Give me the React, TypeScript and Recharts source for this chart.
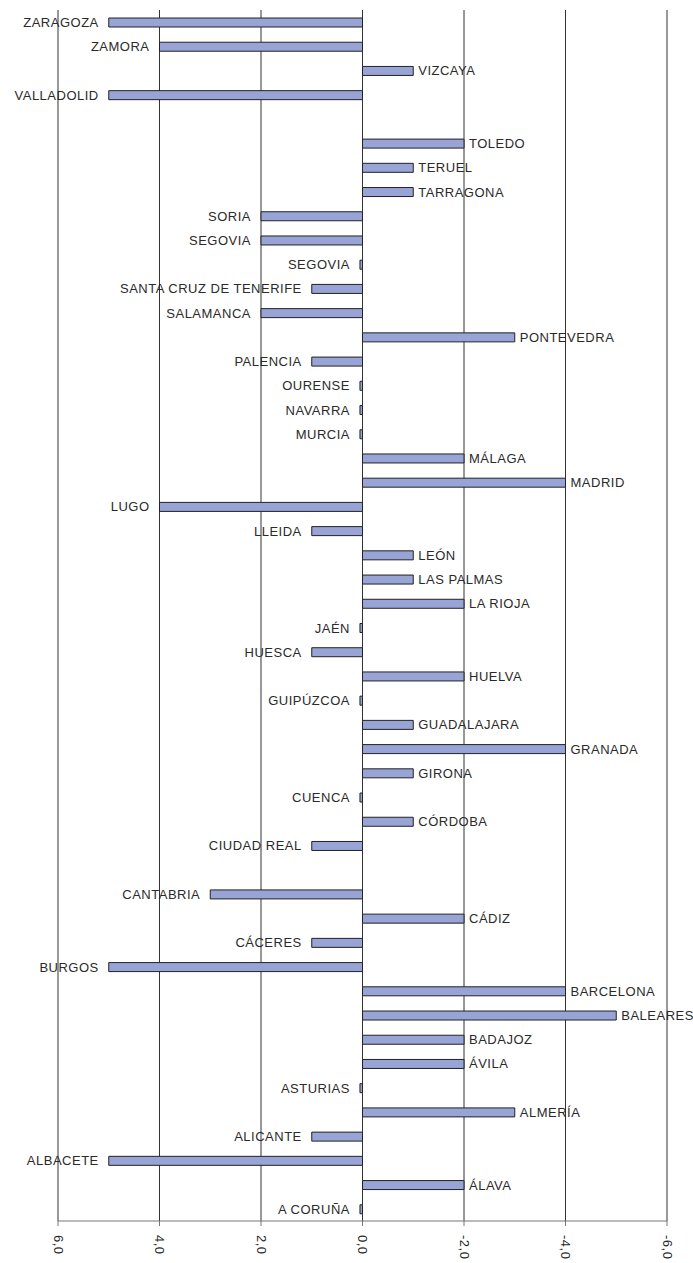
import { BarChart, Bar, XAxis, YAxis, CartesianGrid, LabelList } from "recharts"

// provinces, top to bottom ("" = empty slot)
const provinces = [
  "ZARAGOZA", "ZAMORA", "VIZCAYA", "VALLADOLID", "",
  "TOLEDO", "TERUEL", "TARRAGONA", "SORIA", "SEGOVIA",
  "SEGOVIA", "SANTA CRUZ DE TENERIFE", "SALAMANCA", "PONTEVEDRA", "PALENCIA",
  "OURENSE", "NAVARRA", "MURCIA", "MÁLAGA", "MADRID",
  "LUGO", "LLEIDA", "LEÓN", "LAS PALMAS", "LA RIOJA",
  "JAÉN", "HUESCA", "HUELVA", "GUIPÚZCOA", "GUADALAJARA",
  "GRANADA", "GIRONA", "CUENCA", "CÓRDOBA", "CIUDAD REAL",
  "", "CANTABRIA", "CÁDIZ", "CÁCERES", "BURGOS",
  "BARCELONA", "BALEARES", "BADAJOZ", "ÁVILA", "ASTURIAS",
  "ALMERÍA", "ALICANTE", "ALBACETE", "ÁLAVA", "A CORUÑA",
]

const values: (number | null)[] = [
  5, 4, -1, 5, null,
  -2, -1, -1, 2, 2,
  0.05, 1, 2, -3, 1,
  0.05, 0.05, 0.05, -2, -4,
  4, 1, -1, -1, -2,
  0.05, 1, -2, 0.05, -1,
  -4, -1, 0.05, -1, 1,
  null, 3, -2, 1, 5,
  -4, -5, -2, -2, 0.05,
  -3, 1, 5, -2, 0.05,
]

const xTicks = [6, 4, 2, 0, -2, -4, -6]

const data = provinces.map((name, i) => ({ idx: i, name, value: values[i] }))

const FONT = "'Liberation Sans', Arial, Helvetica, sans-serif"
const TEXT = "#2a2a2a"

function BarLabel(props: any) {
  const { x, y, width, height, value } = props
  const row = data[Number(value)]
  if (!row || row.value == null || !row.name) return null
  const left = Math.min(x, x + width)
  const right = Math.max(x, x + width)
  const cy = y + height / 2
  const toLeft = row.value > 0
  return (
    <text
      x={toLeft ? left - 10 : right + 5}
      y={cy}
      dy={4.5}
      textAnchor={toLeft ? "end" : "start"}
      fontSize={13}
      letterSpacing={0.5}
      fill={TEXT}
      fontFamily={FONT}
    >
      {row.name}
    </text>
  )
}

function XTick(props: any) {
  const { x, y, payload } = props
  const label = Number(payload.value).toFixed(1).replace(".", ",")
  return (
    <g transform={`translate(${x},${y})`}>
      <text
        transform="rotate(90)"
        x={7}
        y={0}
        dy={4.5}
        textAnchor="start"
        fontSize={13}
        letterSpacing={0.5}
        fill={TEXT}
        fontFamily={FONT}
      >
        {label}
      </text>
    </g>
  )
}

export default function App() {
  return (
    <div style={{ position: "absolute", left: 0, top: 0, background: "#fff" }}>
      <BarChart
        width={693}
        height={1263}
        data={data}
        layout="vertical"
        margin={{ top: 10, right: 26, left: 58, bottom: 0 }}
        style={{ fontFamily: FONT }}
      >
        <CartesianGrid horizontal={false} stroke="#333" strokeWidth={1} />
        <XAxis
          type="number"
          domain={[-6, 6]}
          ticks={xTicks}
          reversed
          height={42}
          tickSize={5}
          axisLine={{ stroke: "#777" }}
          tickLine={{ stroke: "#777" }}
          tick={<XTick />}
          interval={0}
        />
        <YAxis type="category" dataKey="name" hide />
        <Bar
          dataKey="value"
          fill="#99A4D6"
          stroke="#222"
          strokeWidth={1}
          barSize={9}
          isAnimationActive={false}
        >
          <LabelList dataKey="idx" content={<BarLabel />} />
        </Bar>
      </BarChart>
    </div>
  )
}
